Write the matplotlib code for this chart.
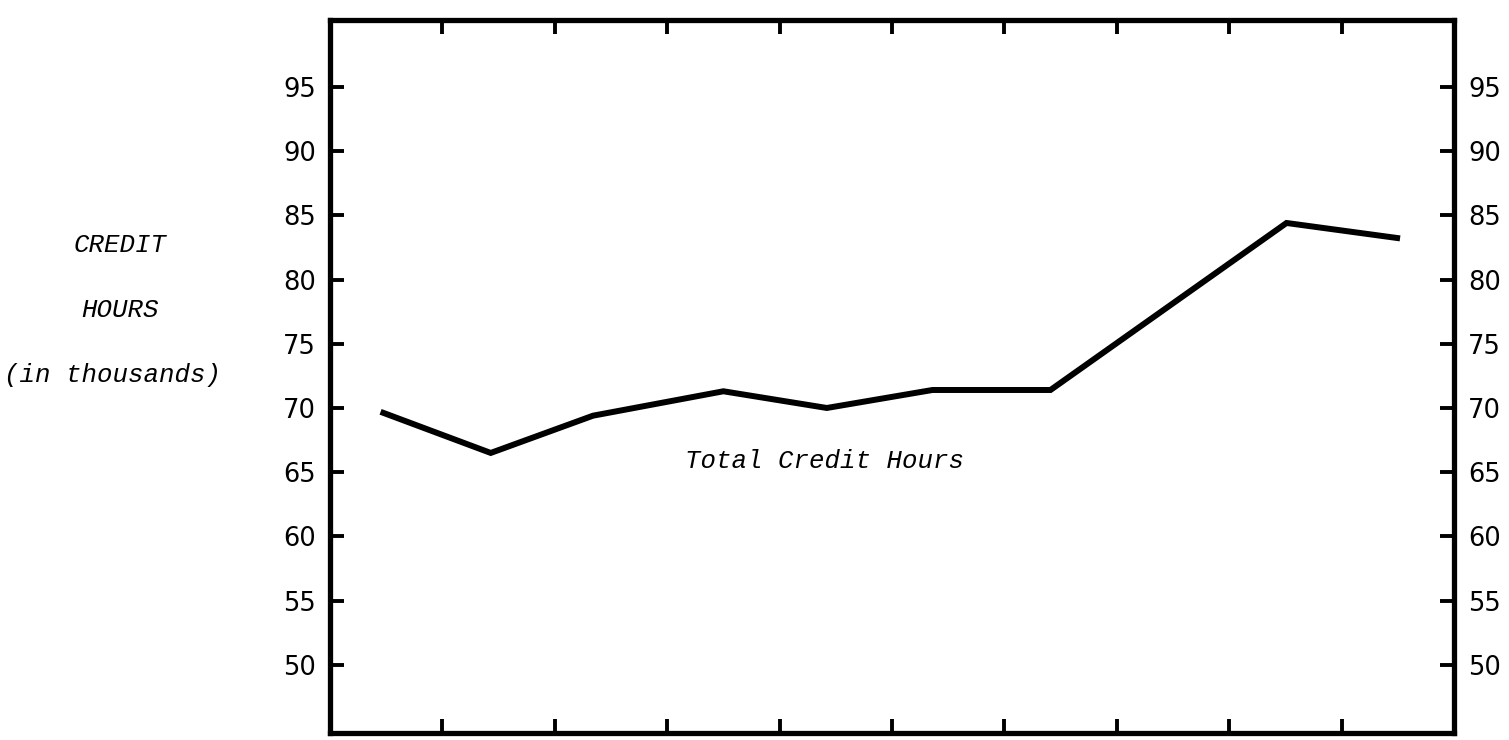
import matplotlib
matplotlib.use('Agg')
import matplotlib.pyplot as plt

# data (credit hours, thousands)
periods = [0.45, 1.43, 2.34, 3.5, 4.42, 5.36, 6.41, 7.46, 8.51, 9.52]
credit_hours = [69.7, 66.5, 69.4, 71.3, 70.0, 71.4, 71.4, 77.9, 84.4, 83.2]
y_ticks = [50, 55, 60, 65, 70, 75, 80, 85, 90, 95]
x_ticks = [1, 2, 3, 4, 5, 6, 7, 8, 9]
series_label = 'Total Credit Hours'
axis_label = ['CREDIT', 'HOURS', '(in thousands)']

typewriter = dict(family='Liberation Mono', style='italic', fontsize=18.5)

fig = plt.figure(figsize=(15.09, 7.40), dpi=100)
ax = fig.add_axes([330 / 1509, 1 - 733 / 740, 1124 / 1509, 713 / 740])

ax.plot(periods, credit_hours, color='black', lw=4.3, solid_joinstyle='miter',
        solid_capstyle='butt')

ax.set_xlim(0, 10)
ax.set_ylim(44.7, 100.2)
ax.set_xticks(x_ticks)
ax.set_yticks(y_ticks)
ax.set_xticklabels([])
ax.tick_params(axis='both', direction='in', length=10, width=2.8, colors='black',
               labelsize=18.5, pad=10)
ax.tick_params(axis='x', top=True, bottom=True)
ax.tick_params(axis='y', left=True, right=True, labelleft=True, labelright=True)
for sp in ax.spines.values():
    sp.set_linewidth(3.8)
    sp.set_color('black')

ax.text(4.4, 65.9, series_label, ha='center', va='center', **typewriter)

for txt, (xp, yp) in zip(axis_label, [(120, 245), (120, 310), (113, 375)]):
    fig.text(xp / 1509, 1 - yp / 740, txt, ha='center', va='center', **typewriter)

plt.savefig('out.png', dpi=100)
plt.close()
